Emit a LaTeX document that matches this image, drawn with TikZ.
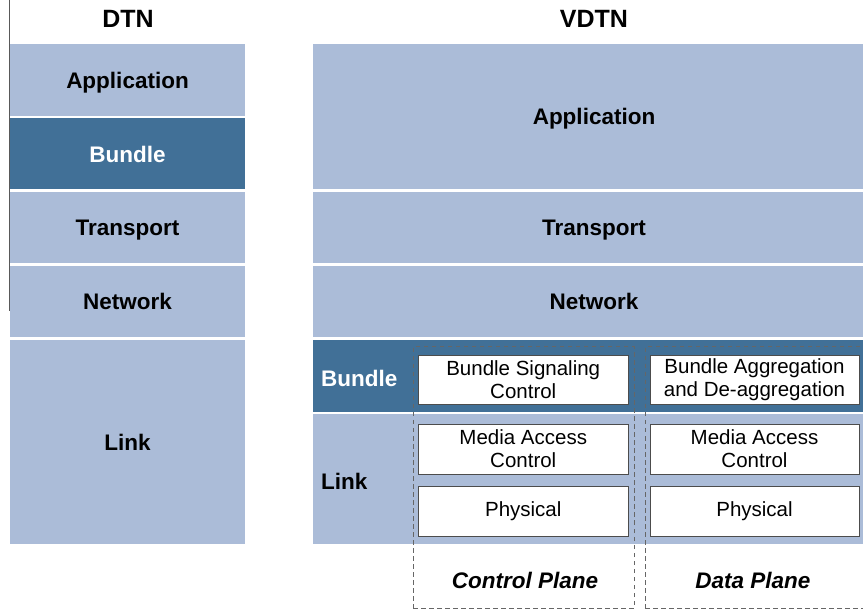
\documentclass[tikz,border=0pt]{standalone}
\usepackage{fontspec}
\setmainfont{Liberation Sans}
\definecolor{lightband}{RGB}{171,188,216}
\definecolor{darkband}{RGB}{65,112,151}
\begin{document}
\begin{tikzpicture}[x=1pt,y=-1pt,
 band/.style={fill=lightband, draw=none, inner sep=0pt, outer sep=0pt, anchor=north west, text depth=0pt, font=\fontsize{22.5}{26}\selectfont\bfseries},
 darkb/.style={band, fill=darkband, text=white},
 head/.style={inner sep=0pt, text depth=0pt, font=\fontsize{25}{30}\selectfont\bfseries},
 sidelabel/.style={inner sep=0pt, anchor=west, text depth=0pt, font=\fontsize{22.5}{26}\selectfont\bfseries},
 cell/.style={draw=black!70, line width=0.8pt, fill=white, anchor=north west, inner sep=0pt, outer sep=0pt, align=center, font=\fontsize{20.5}{23}\selectfont},
 plane/.style={draw=black!60, line width=1pt, dash pattern=on 4.5pt off 3.5pt, anchor=north west, inner sep=0pt, outer sep=0pt},
 plabel/.style={inner sep=0pt, text depth=0pt, font=\fontsize{22.5}{26}\selectfont\bfseries\itshape}
]
\useasboundingbox (0,0) rectangle (863,612);

% headings
\node[head] (dtn) at (128,19) {DTN};
\node[head] (vdtn) at (594,19) {VDTN};

% left rule
\coordinate (ltop) at (9.5,0);
\coordinate (lbot) at (9.5,311);
\draw[black!65, line width=1.2pt] (ltop) -- (lbot);

% DTN stack
\node[band, minimum width=235pt, minimum height=72pt] (dapp) at (10,44) {Application};
\node[darkb, minimum width=235pt, minimum height=71pt] (dbun) at (10,118.5) {Bundle};
\node[band, minimum width=235pt, minimum height=71.5pt] (dtra) at (10,192) {Transport};
\node[band, minimum width=235pt, minimum height=71.5pt] (dnet) at (10,266) {Network};
\node[band, minimum width=235pt, minimum height=204pt] (dlin) at (10,340) {Link};

% VDTN stack
\node[band, minimum width=562pt, minimum height=145.5pt] (vapp) at (313,44) {Application};
\node[band, minimum width=562pt, minimum height=71.5pt] (vtra) at (313,192) {Transport};
\node[band, minimum width=562pt, minimum height=71.5pt] (vnet) at (313,266) {Network};
\node[darkb, minimum width=562pt, minimum height=72pt] (vbun) at (313,340) {};
\node[band, minimum width=562pt, minimum height=129pt] (vlin) at (313,414.5) {};
\node[sidelabel, text=white] (vbunl) at (321,378) {Bundle};
\node[sidelabel] (vlinl) at (321,481) {Link};

% planes
\node[plane, minimum width=221pt, minimum height=261pt] (cp) at (413,347) {};
\node[plane, minimum width=225pt, minimum height=261pt] (dp) at (645,347) {};

% cells
\node[cell, minimum width=209.5pt, minimum height=49pt] (cbsc) at (418.5,355) {Bundle Signaling\\Control};
\node[cell, minimum width=209.5pt, minimum height=50pt] (cmac) at (418.5,424) {Media Access\\Control};
\node[cell, minimum width=209.5pt, minimum height=50pt] (cphy) at (418.5,486) {Physical};
\node[cell, minimum width=209pt, minimum height=49pt] (dbad) at (650,355) {Bundle Aggregation\\and De-aggregation};
\node[cell, minimum width=209pt, minimum height=50pt] (dmac) at (650,424) {Media Access\\Control};
\node[cell, minimum width=209pt, minimum height=50pt] (dphy) at (650,486) {Physical};

% plane labels
\node[plabel] (cpl) at (525,580) {Control Plane};
\node[plabel] (dpl) at (753,580) {Data Plane};
\end{tikzpicture}
\end{document}
